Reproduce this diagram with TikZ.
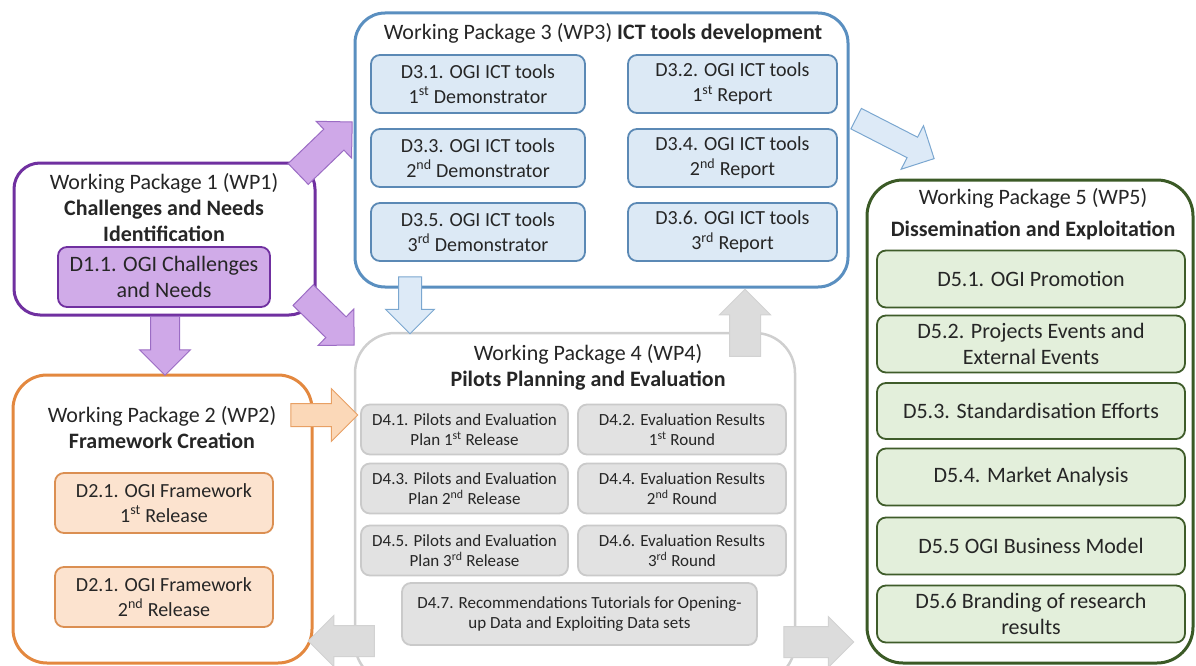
\documentclass[tikz,border=0pt]{standalone}
\usepackage{fontspec}
\setmainfont{Carlito}
\usepackage{tikz}
\usetikzlibrary{shapes.arrows}
\usetikzlibrary{calc}

\definecolor{wpviolet}{HTML}{7030A0}
\definecolor{d1fill}{HTML}{D0ABE8}
\definecolor{violetfill}{HTML}{CFA8E8}
\definecolor{violetedge}{HTML}{9B6CC4}
\definecolor{wpblue}{HTML}{5A8FC0}
\definecolor{d3fill}{HTML}{DCE9F5}
\definecolor{d3edge}{HTML}{5B89B5}
\definecolor{bluefill}{HTML}{DDEAF7}
\definecolor{blueedge}{HTML}{7BA7D0}
\definecolor{wpgreen}{HTML}{3B5A26}
\definecolor{d5fill}{HTML}{E3EFDB}
\definecolor{d5edge}{HTML}{3F5C2A}
\definecolor{wporange}{HTML}{E3883F}
\definecolor{d2fill}{HTML}{FCE3CF}
\definecolor{d2edge}{HTML}{DB8F52}
\definecolor{orangefill}{HTML}{FBD8B8}
\definecolor{orangeedge}{HTML}{E8A064}
\definecolor{wpgray}{HTML}{CFCFCF}
\definecolor{d4fill}{HTML}{E2E2E2}
\definecolor{d4edge}{HTML}{CACACA}
\definecolor{grayfill}{HTML}{DCDCDC}
\definecolor{grayedge}{HTML}{D2D2D2}

% fat arrow between two named points: style, tail, tip
\newcommand{\blockarrow}[3]{%
  \path let \p1=(#2), \p2=(#3), \n1={atan2(\y2-\y1,\x2-\x1)}, \n2={veclen(\x2-\x1,\y2-\y1)} in
    node[#1, minimum height=\n2, rotate=\n1] at ($(#2)!0.5!(#3)$) {};}

\begin{document}
\begin{tikzpicture}[x=1pt,y=-1pt,
    wp/.style={draw=#1, line width=3pt, fill=white, inner sep=0pt},
    deliv/.style 2 args={draw=#1, fill=#2, line width=1.8pt, rounded corners=9pt, align=center, inner sep=0pt, text=black!85},
    title/.style={align=center, inner sep=0pt, text=black!85, font=\fontsize{22}{26}\selectfont},
    fat/.style 2 args={single arrow, draw=#1, fill=#2, line width=1pt, inner xsep=0pt},
    violetarrow/.style={fat={violetedge}{violetfill}, inner ysep=14pt, single arrow head extend=11pt},
    bluearrow/.style={fat={blueedge}{bluefill}, inner ysep=11pt, single arrow head extend=13pt},
    orangearrow/.style={fat={orangeedge}{orangefill}, inner ysep=11pt, single arrow head extend=15pt},
    grayarrow/.style={fat={grayedge}{grayfill}, inner ysep=15pt, single arrow head extend=10pt}]

\useasboundingbox (0,0) rectangle (1196,666);
\clip (0,0) rectangle (1196,666);

% WP1
\node[wp=wpviolet, rounded corners=26pt, minimum width=301pt, minimum height=152pt] (wp1) at (164.5,239) {};
\node[title] (wp1t) at (164,208) {Working Package 1 (WP1)\\\textbf{Challenges and Needs}\\\textbf{Identification}};
\node[deliv={wpviolet}{d1fill}, minimum width=212pt, minimum height=60pt, font=\fontsize{22}{26}\selectfont] (d11) at (164,277) {D1.1. OGI Challenges\\and Needs};

% WP3
\node[wp=wpblue, rounded corners=30pt, minimum width=493pt, minimum height=274pt] (wp3) at (601.5,150) {};
\node[title] (wp3t) at (603,33) {Working Package 3 (WP3) \textbf{ICT tools development}};
\foreach \i/\k/\yy/\sx in {1/1/84/st,3/2/158/nd,5/3/232/rd}
  \node[deliv={d3edge}{d3fill}, minimum width=214pt, minimum height=58pt, font=\fontsize{20}{25}\selectfont] (d3\i) at (478,\yy) {D3.\i. OGI ICT tools\\\k\textsuperscript{\sx} Demonstrator};
\foreach \i/\k/\yy/\sx in {2/1/84/st,4/2/158/nd,6/3/232/rd}
  \node[deliv={d3edge}{d3fill}, minimum width=209pt, minimum height=58pt, font=\fontsize{20}{25}\selectfont] (d3\i) at (732.5,\yy) {D3.\i. OGI ICT tools\\\k\textsuperscript{\sx} Report};

% WP2
\node[wp=wporange, rounded corners=34pt, minimum width=299pt, minimum height=288pt] (wp2) at (162.5,519) {};
\node[title] (wp2t) at (162,428) {Working Package 2 (WP2)\\\textbf{Framework Creation}};
\node[deliv={d2edge}{d2fill}, minimum width=218pt, minimum height=60pt, font=\fontsize{20}{25}\selectfont] (d21a) at (164,503) {D2.1. OGI Framework\\1\textsuperscript{st} Release};
\node[deliv={d2edge}{d2fill}, minimum width=218pt, minimum height=60pt, font=\fontsize{20}{25}\selectfont] (d21b) at (164,597) {D2.1. OGI Framework\\2\textsuperscript{nd} Release};

% WP4
\node[wp=wpgray, line width=2.5pt, rounded corners=40pt, minimum width=440pt, minimum height=350pt] (wp4) at (575,508) {};
\node[title] (wp4t) at (588,367) {Working Package 4 (WP4)\\\textbf{Pilots Planning and Evaluation}};
\foreach \i/\k/\yy/\sx in {1/1/429.5/st,3/2/488.5/nd,5/3/550.5/rd}
  \node[deliv={d4edge}{d4fill}, minimum width=207pt, minimum height=50pt, font=\fontsize{17}{20}\selectfont] (d4\i) at (464.5,\yy) {D4.\i. Pilots and Evaluation\\Plan \k\textsuperscript{\sx} Release};
\foreach \i/\k/\yy/\sx in {2/1/429.5/st,4/2/488.5/nd,6/3/550.5/rd}
  \node[deliv={d4edge}{d4fill}, minimum width=208pt, minimum height=50pt, font=\fontsize{17}{20}\selectfont] (d4\i) at (682,\yy) {D4.\i. Evaluation Results\\\k\textsuperscript{\sx} Round};
\node[deliv={d4edge}{d4fill}, minimum width=355pt, minimum height=62pt, font=\fontsize{17}{20}\selectfont] (d47) at (579.5,614) {D4.7. Recommendations Tutorials for Opening-\\up Data and Exploiting Data sets};

% WP5
\node[wp=wpgreen, rounded corners=36pt, minimum width=326pt, minimum height=483pt] (wp5) at (1030,421.5) {};
\node[title, font=\fontsize{22}{32}\selectfont] (wp5t) at (1033,214) {Working Package 5 (WP5)\\\textbf{Dissemination and Exploitation}};
\node[deliv={d5edge}{d5fill}, minimum width=308pt, minimum height=57pt, font=\fontsize{22}{26}\selectfont] (d51) at (1031,279) {D5.1. OGI Promotion};
\node[deliv={d5edge}{d5fill}, minimum width=308pt, minimum height=57pt, font=\fontsize{22}{26}\selectfont] (d52) at (1031,344) {D5.2. Projects Events and\\External Events};
\node[deliv={d5edge}{d5fill}, minimum width=308pt, minimum height=56pt, font=\fontsize{22}{26}\selectfont] (d53) at (1031,411) {D5.3. Standardisation Efforts};
\node[deliv={d5edge}{d5fill}, minimum width=308pt, minimum height=57pt, font=\fontsize{22}{26}\selectfont] (d54) at (1031,477) {D5.4. Market Analysis};
\node[deliv={d5edge}{d5fill}, minimum width=308pt, minimum height=57pt, font=\fontsize{22}{26}\selectfont] (d55) at (1031,546) {D5.5 OGI Business Model};
\node[deliv={d5edge}{d5fill}, minimum width=308pt, minimum height=57pt, font=\fontsize{22}{26}\selectfont] (d56) at (1031,614) {D5.6 Branding of research\\results};

% arrow ends
\coordinate (p1s) at (293,179); \coordinate (p1e) at (347,127);
\coordinate (p2s) at (298,290); \coordinate (p2e) at (349,340);
\coordinate (p3s) at (165,309); \coordinate (p3e) at (165,368);
\coordinate (b1s) at (410,271); \coordinate (b1e) at (410,328);
\coordinate (b2s) at (851,116); \coordinate (b2e) at (929,156);
\coordinate (o1s) at (285,415); \coordinate (o1e) at (352,415);
\coordinate (g1s) at (745,364); \coordinate (g1e) at (745,297);
\coordinate (g2s) at (382,641); \coordinate (g2e) at (316,641);
\coordinate (g3s) at (776,642); \coordinate (g3e) at (846,642);

% block arrows
\blockarrow{violetarrow}{p1s}{p1e}
\blockarrow{violetarrow}{p2s}{p2e}
\blockarrow{violetarrow}{p3s}{p3e}
\blockarrow{bluearrow}{b1s}{b1e}
\blockarrow{bluearrow}{b2s}{b2e}
\blockarrow{orangearrow}{o1s}{o1e}
\blockarrow{grayarrow}{g1s}{g1e}
\blockarrow{grayarrow}{g2s}{g2e}
\blockarrow{grayarrow}{g3s}{g3e}
\end{tikzpicture}
\end{document}
